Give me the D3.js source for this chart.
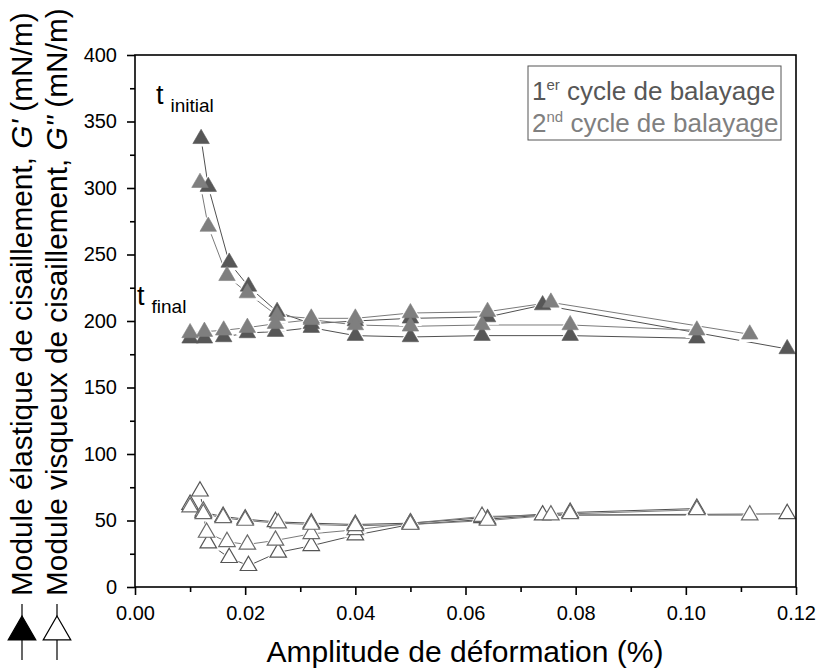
<!DOCTYPE html>
<html>
<head>
<meta charset="utf-8">
<script src="https://cdn.jsdelivr.net/npm/d3@7"></script>
<style>
  body { margin: 0; background: #fff; }
  svg { font-family: "Liberation Sans", Arial, sans-serif; }
  .axis path, .axis line { stroke: #000; stroke-width: 1.6; }
  .axis text { font-size: 20px; fill: #000; }
</style>
</head>
<body>
<div id="chart"></div>
<script>
// G' (filled triangles) - 1st cycle = dark, 2nd cycle = light
var gp1UpX = [0.0120, 0.0133, 0.0171, 0.0206, 0.0258, 0.0320, 0.0400, 0.0500, 0.0640, 0.0740, 0.1184];
var gp1UpY = [337, 301, 244, 226, 207, 198, 200, 202, 203, 212, 179];
var gp1DownX = [0.1020, 0.0790, 0.0630, 0.0500, 0.0400, 0.0320, 0.0255, 0.0204, 0.0161, 0.0126, 0.0100];
var gp1DownY = [187, 189, 189, 188, 189, 195, 192, 191, 188, 187, 187];
var gp2UpX = [0.0118, 0.0133, 0.0167, 0.0204, 0.0258, 0.0320, 0.0400, 0.0500, 0.0640, 0.0755, 0.1116];
var gp2UpY = [304, 271, 234, 221, 204, 202, 202, 206, 207, 214, 190];
var gp2DownX = [0.1020, 0.0790, 0.0630, 0.0500, 0.0400, 0.0320, 0.0255, 0.0204, 0.0161, 0.0126, 0.0100];
var gp2DownY = [193, 197, 197, 196, 197, 201, 198, 195, 193, 192, 191];

// G'' (open triangles)
var gpp1UpX = [0.0118, 0.0133, 0.0171, 0.0206, 0.0260, 0.0320, 0.0400, 0.0500, 0.0640, 0.0740, 0.1184];
var gpp1UpY = [72, 33, 22, 16, 26, 31, 39, 47, 51, 54, 55];
var gpp2UpX = [0.0124, 0.0130, 0.0167, 0.0204, 0.0255, 0.0320, 0.0400, 0.0500, 0.0630, 0.0755, 0.1116];
var gpp2UpY = [57, 41, 34, 32, 35, 40, 43, 48, 53, 54, 54];
var gpp1DownX = [0.1020, 0.0790, 0.0630, 0.0500, 0.0400, 0.0320, 0.0255, 0.0200, 0.0160, 0.0124, 0.0100];
var gpp1DownY = [59, 56, 52, 48, 47, 48, 49, 51, 53, 56, 62];
var gpp2DownX = [0.1020, 0.0790, 0.0640, 0.0500, 0.0400, 0.0320, 0.0260, 0.0200, 0.0160, 0.0124, 0.0100];
var gpp2DownY = [58, 55, 50, 47, 46, 47, 48, 50, 52, 55, 60];

var xMajor = [0, 0.02, 0.04, 0.06, 0.08, 0.10, 0.12];
var xMinor = [0.01, 0.03, 0.05, 0.07, 0.09, 0.11];
var yMajor = [0, 50, 100, 150, 200, 250, 300, 350, 400];
var yMinor = [25, 75, 125, 175, 225, 275, 325, 375];

var width = 820, height = 668;
var plotLeft = 135, plotRight = 796, plotTop = 55, plotBottom = 587;

var svg = d3.select("#chart").append("svg")
  .attr("width", width)
  .attr("height", height);

var x = d3.scaleLinear().domain([0, 0.12]).range([plotLeft, plotRight]);
var y = d3.scaleLinear().domain([0, 400]).range([plotBottom, plotTop]);

function zip(xs, ys) { return xs.map(function(d, i) { return [d, ys[i]]; }); }

var series = [
  { pts: zip(gp1UpX, gp1UpY), fill: "#575757", stroke: "#575757", line: "#505050" },
  { pts: zip(gp1DownX, gp1DownY), fill: "#575757", stroke: "#575757", line: "#505050" },
  { pts: zip(gp2UpX, gp2UpY), fill: "#7f7f7f", stroke: "#7f7f7f", line: "#7a7a7a" },
  { pts: zip(gp2DownX, gp2DownY), fill: "#7f7f7f", stroke: "#7f7f7f", line: "#7a7a7a" },
  { pts: zip(gpp1UpX, gpp1UpY), fill: "#fff", stroke: "#555", line: "#505050" },
  { pts: zip(gpp1DownX, gpp1DownY), fill: "#fff", stroke: "#555", line: "#505050" },
  { pts: zip(gpp2UpX, gpp2UpY), fill: "#fff", stroke: "#6a6a6a", line: "#7a7a7a" },
  { pts: zip(gpp2DownX, gpp2DownY), fill: "#fff", stroke: "#6a6a6a", line: "#7a7a7a" }
];

var line = d3.line().x(function(d) { return x(d[0]); }).y(function(d) { return y(d[1]); });
var tri = d3.symbol().type(d3.symbolTriangle).size(118);
var halo = d3.symbol().type(d3.symbolTriangle).size(230);

// lines
series.forEach(function(s) {
  svg.append("path")
    .attr("d", line(s.pts))
    .attr("fill", "none")
    .attr("stroke", s.line)
    .attr("stroke-width", 1);
});

// white gaps around markers
series.forEach(function(s) {
  svg.selectAll(null).data(s.pts).enter().append("path")
    .attr("d", halo)
    .attr("transform", function(d) { return "translate(" + x(d[0]) + "," + (y(d[1]) + 1) + ")"; })
    .attr("fill", "#fff");
});

// markers
series.forEach(function(s) {
  svg.selectAll(null).data(s.pts).enter().append("path")
    .attr("d", tri)
    .attr("transform", function(d) { return "translate(" + x(d[0]) + "," + y(d[1]) + ")"; })
    .attr("fill", s.fill)
    .attr("stroke", s.stroke)
    .attr("stroke-width", s.fill == "#fff" ? 1.2 : 0.6);
});

// frame
svg.append("rect")
  .attr("x", plotLeft).attr("y", plotTop)
  .attr("width", plotRight - plotLeft).attr("height", plotBottom - plotTop)
  .attr("fill", "none").attr("stroke", "#000").attr("stroke-width", 1.6);

// axes
svg.append("g").attr("class", "axis")
  .attr("transform", "translate(0," + plotBottom + ")")
  .call(d3.axisBottom(x).tickValues(xMajor).tickSize(8).tickPadding(11).tickFormat(d3.format(".2f")));
svg.append("g").attr("class", "axis")
  .attr("transform", "translate(0," + plotBottom + ")")
  .call(d3.axisBottom(x).tickValues(xMinor).tickSize(5).tickFormat(""));
svg.append("g").attr("class", "axis")
  .attr("transform", "translate(" + plotLeft + ",0)")
  .call(d3.axisLeft(y).tickValues(yMajor).tickSize(8).tickPadding(10));
svg.append("g").attr("class", "axis")
  .attr("transform", "translate(" + plotLeft + ",0)")
  .call(d3.axisLeft(y).tickValues(yMinor).tickSize(5).tickFormat(""));
svg.selectAll(".axis .domain").remove();

// x title
svg.append("text")
  .attr("x", 465).attr("y", 662)
  .attr("text-anchor", "middle")
  .style("font-size", "30px")
  .text("Amplitude de déformation (%)");

// y titles (rotated) with legend symbols
function yTitle(cx, label, filled) {
  var g = svg.append("g").attr("transform", "translate(" + cx + ",0)");
  g.append("line").attr("x1", 0).attr("x2", 0).attr("y1", 604).attr("y2", 660)
    .attr("stroke", "#000").attr("stroke-width", 1.2);
  g.append("path")
    .attr("d", d3.symbol().type(d3.symbolTriangle).size(330))
    .attr("transform", "translate(0,632)")
    .attr("fill", filled ? "#000" : "#fff")
    .attr("stroke", "#000").attr("stroke-width", 1.2);
  var t = g.append("text")
    .attr("transform", "translate(10,596) rotate(-90)")
    .style("font-size", "29.8px");
  t.append("tspan").text(label[0]);
  t.append("tspan").style("font-style", "italic").text(label[1]);
  t.append("tspan").text(label[2]);
}
yTitle(22, ["Module élastique de cisaillement, ", "G'", " (mN/m)"], true);
yTitle(57, ["Module visqueux de cisaillement, ", "G''", " (mN/m)"], false);

// annotations
var ti = svg.append("text").attr("x", 156).attr("y", 104).style("font-size", "27px");
ti.append("tspan").text("t");
ti.append("tspan").attr("dx", 7).attr("dy", 8).style("font-size", "19px").text("initial");
var tf = svg.append("text").attr("x", 137).attr("y", 305).style("font-size", "27px");
tf.append("tspan").text("t");
tf.append("tspan").attr("dx", 7).attr("dy", 8).style("font-size", "19px").text("final");

// legend
svg.append("rect")
  .attr("x", 528).attr("y", 66).attr("width", 253).attr("height", 74)
  .attr("fill", "#fff").attr("stroke", "#555").attr("stroke-width", 1);
var legendItems = [["1", "er", " cycle de balayage", "#575757"], ["2", "nd", " cycle de balayage", "#808080"]];
legendItems.forEach(function(d, i) {
  var t = svg.append("text").attr("x", 532).attr("y", 100 + i * 32)
    .style("font-size", "26px").attr("fill", d[3]);
  t.append("tspan").text(d[0]);
  t.append("tspan").attr("dy", -10).style("font-size", "15px").text(d[1]);
  t.append("tspan").attr("dy", 10).text(d[2]);
});
</script>
</body>
</html>
